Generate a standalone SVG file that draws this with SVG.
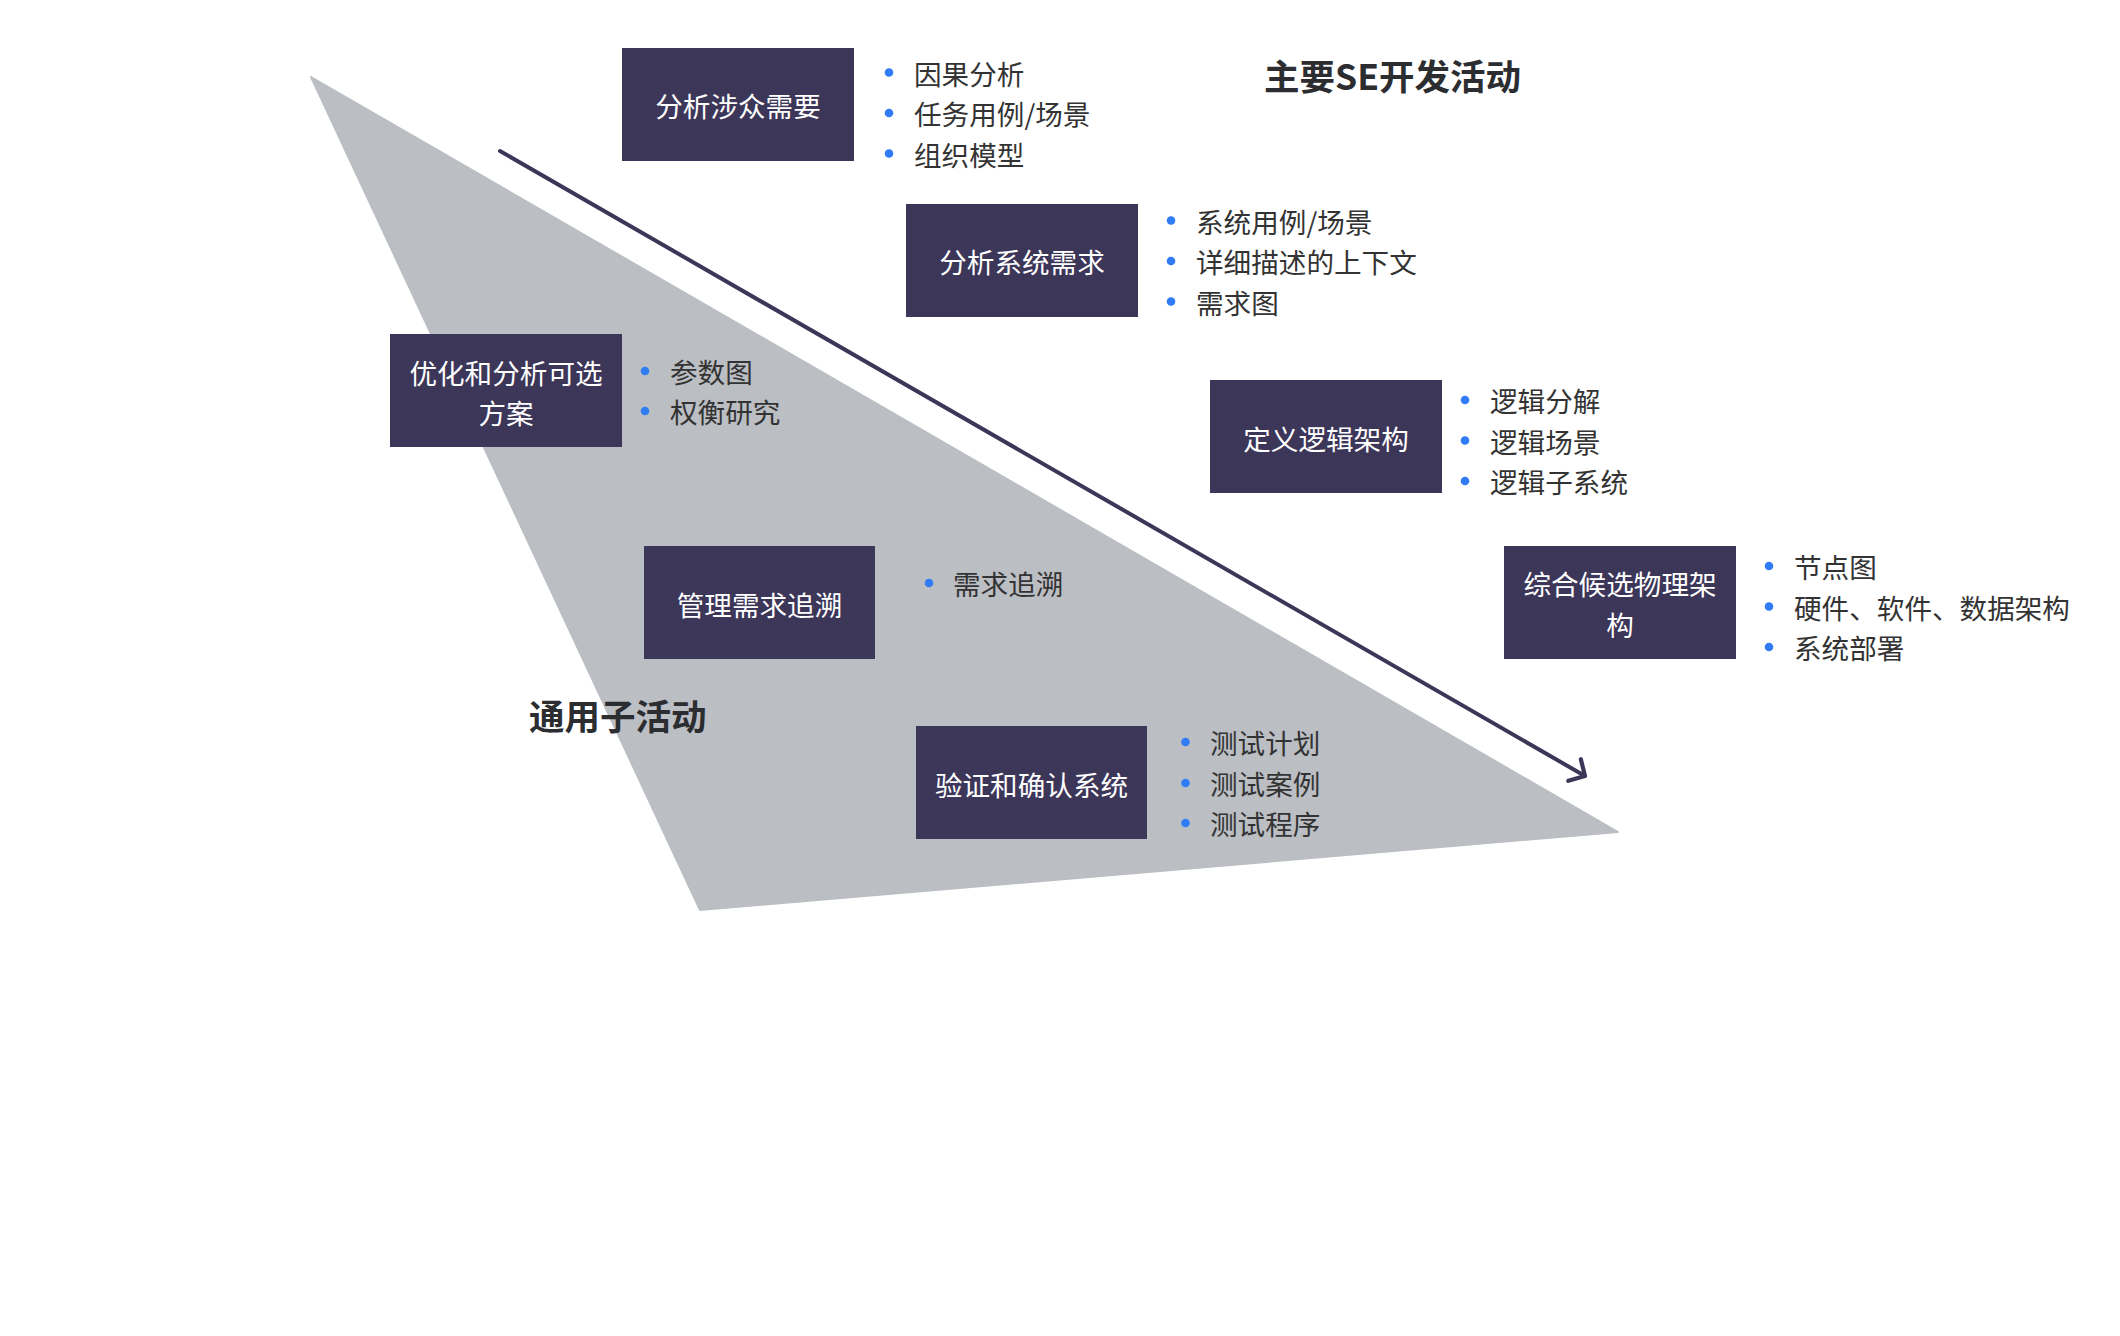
<svg xmlns="http://www.w3.org/2000/svg" width="2120" height="1336" viewBox="0 0 2120 1336">
<style>
.bg{fill:#ffffff}
.tri{fill:#bbbec3;stroke:#bbbec3;stroke-width:2;stroke-linejoin:round}
.box{fill:#3c3659}
.bt{font-family:"Noto Sans CJK SC","Noto Sans",sans-serif;font-size:27.6px;fill:#ffffff;text-anchor:middle}
.it{font-family:"Noto Sans CJK SC","Noto Sans",sans-serif;font-size:27.6px;fill:#333333}
.dot{fill:#2f7cf6}
.ttl{font-family:"Noto Sans CJK SC","Noto Sans",sans-serif;font-size:35.5px;font-weight:bold;fill:#2b2d31}
.flow{fill:none;stroke:#3c3659;stroke-width:4;stroke-linecap:round}
</style>
<defs>
<marker id="chev" markerUnits="userSpaceOnUse" markerWidth="40" markerHeight="40" refX="20" refY="20" orient="auto" viewBox="0 0 40 40">
<path d="M8,7.5 L20,20 L8,32.5" fill="none" stroke="#3c3659" stroke-width="4.2" stroke-linecap="round" stroke-linejoin="round"/>
</marker>
</defs>
<rect class="bg" x="0" y="0" width="2120" height="1336"/>
<polygon class="tri" points="311,77 1618,832 700,910"/>
<g id="connectors">
<line class="flow" x1="500" y1="151" x2="1585" y2="776" marker-end="url(#chev)"/>
</g>
<g id="title-main"><text class="ttl" x="1264" y="90">主要SE开发活动</text></g>
<g id="title-general"><text class="ttl" x="529" y="730">通用子活动</text></g>
<g id="n1">
<rect class="box" x="622" y="48" width="232" height="113"/>
<text class="bt" x="738" y="117">分析涉众需要</text>
<circle class="dot" cx="889" cy="72.5" r="4.3"/><text class="it" x="914" y="84.5">因果分析</text>
<circle class="dot" cx="889" cy="113" r="4.3"/><text class="it" x="914" y="125">任务用例/场景</text>
<circle class="dot" cx="889" cy="153.5" r="4.3"/><text class="it" x="914" y="165.5">组织模型</text>
</g>
<g id="n2">
<rect class="box" x="906" y="204" width="232" height="113"/>
<text class="bt" x="1022" y="273">分析系统需求</text>
<circle class="dot" cx="1171" cy="220.5" r="4.3"/><text class="it" x="1196" y="232.5">系统用例/场景</text>
<circle class="dot" cx="1171" cy="261" r="4.3"/><text class="it" x="1196" y="273">详细描述的上下文</text>
<circle class="dot" cx="1171" cy="301.5" r="4.3"/><text class="it" x="1196" y="313.5">需求图</text>
</g>
<g id="n3">
<rect class="box" x="390" y="334" width="232" height="113"/>
<text class="bt" x="506" y="383.5">优化和分析可选</text>
<text class="bt" x="506" y="423.5">方案</text>
<circle class="dot" cx="645" cy="371" r="4.3"/><text class="it" x="670" y="383">参数图</text>
<circle class="dot" cx="645" cy="411" r="4.3"/><text class="it" x="670" y="423">权衡研究</text>
</g>
<g id="n4">
<rect class="box" x="1210" y="380" width="232" height="113"/>
<text class="bt" x="1326" y="450">定义逻辑架构</text>
<circle class="dot" cx="1465" cy="400" r="4.3"/><text class="it" x="1490" y="412">逻辑分解</text>
<circle class="dot" cx="1465" cy="440.5" r="4.3"/><text class="it" x="1490" y="452.5">逻辑场景</text>
<circle class="dot" cx="1465" cy="481" r="4.3"/><text class="it" x="1490" y="493">逻辑子系统</text>
</g>
<g id="n5">
<rect class="box" x="644" y="546" width="231" height="113"/>
<text class="bt" x="759.5" y="615.5">管理需求追溯</text>
<circle class="dot" cx="929" cy="583" r="4.3"/><text class="it" x="953" y="595">需求追溯</text>
</g>
<g id="n6">
<rect class="box" x="1504" y="546" width="232" height="113"/>
<text class="bt" x="1620" y="594.5">综合候选物理架</text>
<text class="bt" x="1620" y="635.5">构</text>
<circle class="dot" cx="1769" cy="566" r="4.3"/><text class="it" x="1794" y="578">节点图</text>
<circle class="dot" cx="1769" cy="606.5" r="4.3"/><text class="it" x="1794" y="618.5">硬件、软件、数据架构</text>
<circle class="dot" cx="1769" cy="647" r="4.3"/><text class="it" x="1794" y="659">系统部署</text>
</g>
<g id="n7">
<rect class="box" x="916" y="726" width="231" height="113"/>
<text class="bt" x="1031.5" y="795.5">验证和确认系统</text>
<circle class="dot" cx="1185.5" cy="742" r="4.3"/><text class="it" x="1210" y="754">测试计划</text>
<circle class="dot" cx="1185.5" cy="783" r="4.3"/><text class="it" x="1210" y="795">测试案例</text>
<circle class="dot" cx="1185.5" cy="823" r="4.3"/><text class="it" x="1210" y="835">测试程序</text>
</g>
</svg>
